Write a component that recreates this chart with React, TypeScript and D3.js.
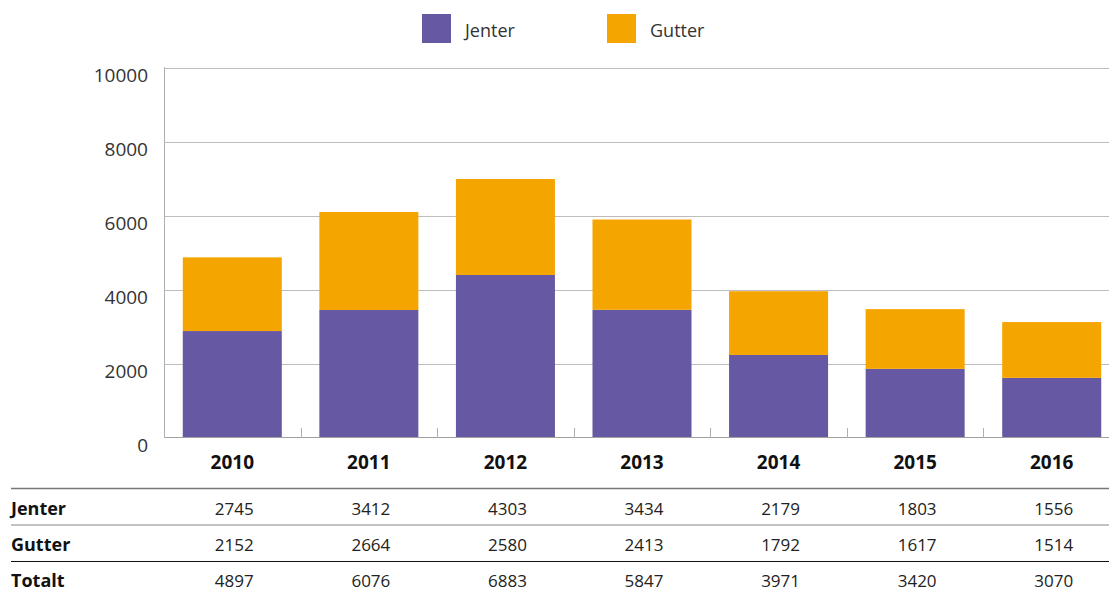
import React from 'react';
import * as d3 from 'd3';

const years = ['2010', '2011', '2012', '2013', '2014', '2015', '2016'];
const jenterTable = [2745, 3412, 4303, 3434, 2179, 1803, 1556];
const gutterTable = [2152, 2664, 2580, 2413, 1792, 1617, 1514];
const totaltTable = [4897, 6076, 6883, 5847, 3971, 3420, 3070];
// bar heights as drawn in the chart
const jenterBars = [2877, 3446, 4392, 3451, 2231, 1855, 1612];
const gutterBars = [1992, 2649, 2594, 2441, 1723, 1615, 1508];
const yTicks = [0, 2000, 4000, 6000, 8000, 10000];
const seriesNames = ['Jenter', 'Gutter'];
const colors = ['#6658A3', '#F5A500'];

const W = 1109;
const H = 592;
const FONT = '"Open Sans", "Noto Sans", sans-serif';

export default function App() {
  const x = d3.scaleBand<string>().domain(years).range([164, 1120]).paddingInner(0.275).paddingOuter(0.1375);
  const y = d3.scaleLinear().domain([0, 10000]).range([437.5, 67.5]);
  const rows = years.map((yr, i) => ({ year: yr, Jenter: jenterBars[i], Gutter: gutterBars[i] }));
  const stacked = d3.stack<any>().keys(seriesNames)(rows);
  const step = x.step();
  const boundaries = d3.range(years.length + 1).map((i) => 164 + i * step);

  const tableRows = [
    { label: 'Jenter', values: jenterTable, y: 515 },
    { label: 'Gutter', values: gutterTable, y: 551 },
    { label: 'Totalt', values: totaltTable, y: 587 },
  ];

  return (
    <svg width={W} height={H} style={{ position: 'absolute', left: 0, top: 0, background: '#fff' }} fontFamily={FONT}>
      {/* legend */}
      {seriesNames.map((s, i) => (
        <g key={s} transform={`translate(${422 + i * 185},14)`}>
          <rect width={29} height={29} fill={colors[i]} />
          <text x={43} y={23} fontSize={18} fill="#333">{s}</text>
        </g>
      ))}
      {/* gridlines */}
      {yTicks.map((t) => (
        <g key={t}>
          {t > 0 && <line x1={164} x2={W} y1={Math.round(y(t)) + 0.5} y2={Math.round(y(t)) + 0.5} stroke="#bdbdbd" strokeWidth={1} />}
          <text x={148} y={y(t) + 14} textAnchor="end" fontSize={19} fill="#333">{t}</text>
        </g>
      ))}
      {/* bars */}
      {stacked.map((layer, si) => (
        <g key={layer.key} fill={colors[si]}>
          {layer.map((d, i) => (
            <rect key={i} x={x(years[i])} width={x.bandwidth()} y={y(d[1])} height={y(d[0]) - y(d[1])} />
          ))}
        </g>
      ))}
      {/* axes */}
      <line x1={164.5} x2={164.5} y1={67} y2={438} stroke="#b0b0b0" strokeWidth={1} />
      <line x1={164} x2={W} y1={437.5} y2={437.5} stroke="#a0a0a0" strokeWidth={1} />
      {boundaries.map((b, i) => (
        <line key={i} x1={Math.round(b) + 0.5} x2={Math.round(b) + 0.5} y1={428} y2={438} stroke="#b0b0b0" strokeWidth={1} />
      ))}
      {years.map((yr) => (
        <text key={yr} x={(x(yr) as number) + x.bandwidth() / 2} y={469} textAnchor="middle" fontSize={19} fontWeight={700} fill="#111">{yr}</text>
      ))}
      {/* table */}
      <line x1={11} x2={W} y1={488.5} y2={488.5} stroke="#777" strokeWidth={1.5} />
      <line x1={11} x2={W} y1={525} y2={525} stroke="#888" strokeWidth={1.2} />
      <line x1={11} x2={W} y1={561.5} y2={561.5} stroke="#111" strokeWidth={1.2} />
      {tableRows.map((r) => (
        <g key={r.label}>
          <text x={11} y={r.y} fontSize={18} fontWeight={700} fill="#111">{r.label}</text>
          {r.values.map((v, i) => (
            <text key={i} x={(x(years[i]) as number) + x.bandwidth() / 2 + 2} y={r.y} textAnchor="middle" fontSize={17} fill="#222">{v}</text>
          ))}
        </g>
      ))}
    </svg>
  );
}
